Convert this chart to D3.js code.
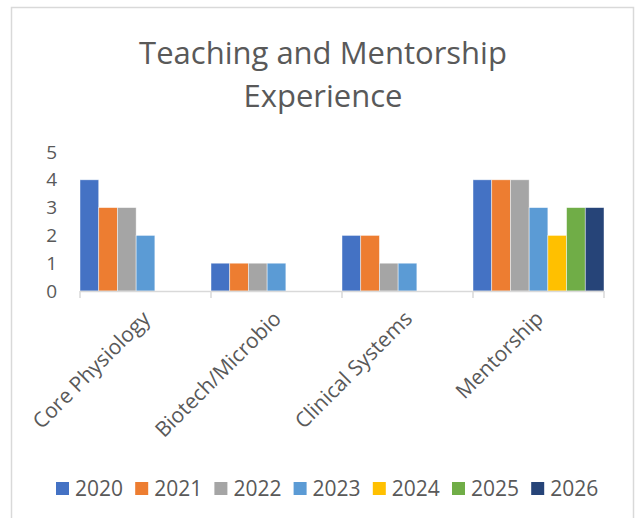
<!DOCTYPE html>
<meta charset="utf-8">
<style>
body { margin: 0; background: #fff; }
text { font-family: "Open Sans", sans-serif; fill: #595959; }
</style>
<body>
<script src="https://cdn.jsdelivr.net/npm/d3@7/dist/d3.min.js"></script>
<script>
// chart data
var categories = ["Core Physiology", "Biotech/Microbio", "Clinical Systems", "Mentorship"];
var years = ["2020", "2021", "2022", "2023", "2024", "2025", "2026"];
var v2020 = [4, 1, 2, 4];
var v2021 = [3, 1, 2, 4];
var v2022 = [3, 1, 1, 4];
var v2023 = [2, 1, 1, 3];
var v2024 = [null, null, null, 2];
var v2025 = [null, null, null, 3];
var v2026 = [null, null, null, 3];
var yTicks = [0, 1, 2, 3, 4, 5];
var colors = ["#4472c4", "#ed7d31", "#a5a5a5", "#5b9bd5", "#ffc000", "#70ad47", "#264478"];

var series = [v2020, v2021, v2022, v2023, v2024, v2025, v2026];

var width = 638, height = 518;

var svg = d3.select("body").append("svg")
    .attr("width", width)
    .attr("height", height);

// chart border
svg.append("rect")
    .attr("x", 11.5).attr("y", 7.5)
    .attr("width", 622).attr("height", 530)
    .attr("fill", "#fff")
    .attr("stroke", "#d9d9d9")
    .attr("stroke-width", 1.5);

// title
var title = svg.append("text")
    .attr("text-anchor", "middle")
    .style("font-size", "31px");
title.append("tspan").attr("x", 323).attr("y", 64).text("Teaching and Mentorship");
title.append("tspan").attr("x", 323).attr("y", 107).text("Experience");

var x = d3.scaleBand().domain(categories).range([80, 604]).padding(0);
var xs = d3.scaleBand().domain(years).range([0, x.bandwidth()]).padding(0);
var y = d3.scaleLinear().domain([0, 5]).range([291, 152]);

// y axis labels
var yAxis = svg.append("g")
    .attr("transform", "translate(80,0)")
    .call(d3.axisLeft(y).tickValues(yTicks).tickFormat(d3.format("d")).tickSize(0).tickPadding(23));
yAxis.select(".domain").remove();
yAxis.selectAll("text")
    .style("font-size", "19px")
    .style("font-family", "'Open Sans', sans-serif")
    .attr("fill", "#595959");

// bars
var groups = svg.selectAll(".grp")
    .data(categories)
    .enter().append("g")
    .attr("class", "grp")
    .attr("transform", function(d) { return "translate(" + x(d) + ",0)"; });

groups.selectAll("rect")
    .data(function(d, i) {
        return years.map(function(yr, j) { return { year: yr, value: series[j][i], color: colors[j] }; })
            .filter(function(e) { return e.value != null; });
    })
    .enter().append("rect")
    .attr("x", function(d) { return xs(d.year); })
    .attr("width", xs.bandwidth())
    .attr("y", function(d) { return y(d.value); })
    .attr("height", function(d) { return y(0) - y(d.value); })
    .attr("fill", function(d) { return d.color; })
    .attr("stroke", "rgba(255,255,255,0.6)")
    .attr("stroke-width", 0.75);

// x axis line + boundary ticks
svg.append("line")
    .attr("x1", x.range()[0]).attr("x2", x.range()[1])
    .attr("y1", y(0) + 0.5).attr("y2", y(0) + 0.5)
    .attr("stroke", "#d9d9d9").attr("stroke-width", 1.5);

var bounds = categories.map(function(c) { return x(c); }).concat([x.range()[1]]);
svg.selectAll(".xtick")
    .data(bounds)
    .enter().append("line")
    .attr("class", "xtick")
    .attr("x1", function(d) { return d; }).attr("x2", function(d) { return d; })
    .attr("y1", y(0)).attr("y2", y(0) + 7)
    .attr("stroke", "#d9d9d9").attr("stroke-width", 1.5);

// rotated category labels
svg.selectAll(".xlab")
    .data(categories)
    .enter().append("text")
    .attr("class", "xlab")
    .attr("text-anchor", "end")
    .style("font-size", "21px")
    .attr("transform", function(d) {
        return "translate(" + (x(d) + x.bandwidth() / 2 + 6) + "," + 320 + ") rotate(-45)";
    })
    .text(function(d) { return d; });

// legend
var legend = svg.selectAll(".leg")
    .data(years)
    .enter().append("g")
    .attr("class", "leg")
    .attr("transform", function(d, i) { return "translate(" + (56 + i * 79.2) + ",482)"; });

legend.append("rect")
    .attr("width", 13).attr("height", 13)
    .attr("fill", function(d, i) { return colors[i]; });

legend.append("text")
    .attr("x", 19).attr("y", 14)
    .style("font-size", "21px")
    .text(function(d) { return d; });
</script>
